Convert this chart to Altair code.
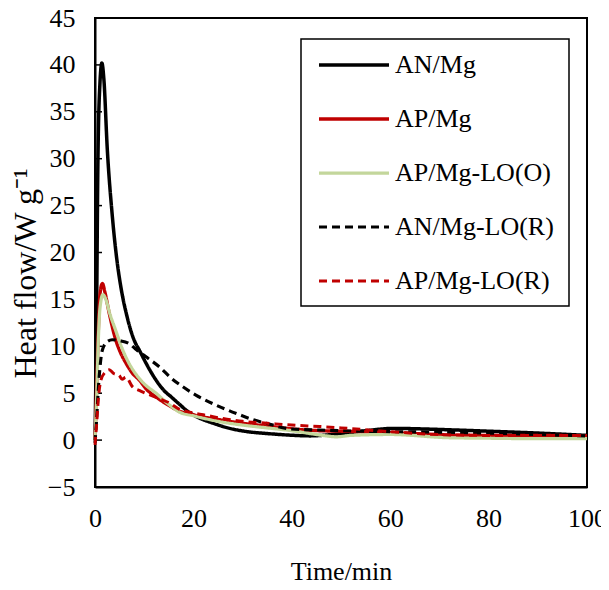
import altair as alt
import pandas as pd

series_names = ["AN/Mg", "AP/Mg", "AP/Mg-LO(O)", "AN/Mg-LO(R)", "AP/Mg-LO(R)"]
series_colors = ["#000000", "#c00000", "#c3d69b", "#000000", "#c00000"]

an_mg_t = [0, 0.3, 0.6, 1.0, 1.4, 1.8, 2.5, 3.5, 4.5, 5.2, 6.5, 8, 9, 11, 12.4, 14, 15.5, 17, 19, 21, 24, 27, 31, 35, 39.6, 43.7, 50, 55, 60.7, 66, 72, 80, 90, 100]
an_mg_v = [0, 12, 30, 38, 40.2, 38.5, 31, 24, 19, 16.5, 13.2, 10.6, 9.6, 7.6, 6.4, 5.3, 4.6, 3.9, 3.0, 2.4, 1.8, 1.3, 0.9, 0.7, 0.53, 0.45, 0.7, 1.0, 1.25, 1.2, 1.1, 0.95, 0.75, 0.5]

ap_mg_t = [0, 0.3, 0.7, 1.0, 1.5, 2.0, 2.9, 4.2, 5.2, 6.3, 7.5, 9.0, 10.5, 12.4, 15, 17.1, 20, 25, 30, 35, 40, 45.7, 50, 60, 72, 80, 90, 100]
ap_mg_v = [0, 5, 12, 15.5, 16.7, 15.8, 13.5, 10.7, 9.3, 8.2, 7.2, 6.4, 5.4, 4.6, 3.7, 3.1, 2.7, 2.2, 1.8, 1.5, 1.2, 1.0, 0.95, 0.8, 0.55, 0.5, 0.5, 0.45]

ap_lo_o_t = [0, 0.3, 0.7, 1.0, 1.6, 2.2, 3.0, 4.2, 5.5, 6.9, 8.5, 10, 12.4, 15, 17.1, 20, 25, 30, 35, 40, 43.7, 47, 49, 52, 60, 72, 80, 90, 100]
ap_lo_o_v = [0, 4, 11, 14, 15.5, 15, 13.5, 11.7, 9.8, 8.2, 6.9, 6.0, 5.0, 3.8, 3.0, 2.6, 2.0, 1.6, 1.3, 1.0, 0.7, 0.45, 0.35, 0.5, 0.6, 0.25, 0.2, 0.15, 0.15]

an_lo_r_t = [0, 0.3, 0.8, 1.5, 2.5, 3.5, 5, 6.9, 8.5, 10.3, 13.1, 15.5, 17.8, 20.5, 23.9, 26.5, 29.4, 32, 34.8, 39.6, 45.7, 50, 60, 70, 80, 90, 100]
an_lo_r_v = [-0.3, 2, 6.4, 9.6, 10.5, 10.7, 10.6, 10.3, 9.6, 8.9, 7.8, 6.6, 5.7, 4.8, 3.9, 3.3, 2.7, 2.2, 1.8, 1.2, 1.07, 1.0, 0.9, 0.85, 0.75, 0.6, 0.45]

ap_lo_r_t = [0, 0.3, 0.7, 1.2, 2.0, 2.9, 3.8, 4.9, 5.5, 6.3, 7.6, 9, 10.3, 13.1, 15, 17.1, 20, 23, 26, 30, 35, 40, 45.7, 50, 60, 72, 80, 90, 100]
ap_lo_r_v = [-0.5, 1.5, 4.5, 6.4, 7.2, 7.5, 7.1, 6.9, 6.5, 6.7, 5.7, 5.3, 5.0, 4.4, 4.0, 3.3, 2.9, 2.6, 2.3, 2.0, 1.8, 1.6, 1.45, 1.3, 0.9, 0.55, 0.5, 0.5, 0.5]

y_ticks = [-5, 0, 5, 10, 15, 20, 25, 30, 35, 40, 45]
x_ticks = [0, 20, 40, 60, 80, 100]

rows = []
for name, ts, vs in zip(series_names,
                        [an_mg_t, ap_mg_t, ap_lo_o_t, an_lo_r_t, ap_lo_r_t],
                        [an_mg_v, ap_mg_v, ap_lo_o_v, an_lo_r_v, ap_lo_r_v]):
    for i, (t, v) in enumerate(zip(ts, vs)):
        rows.append({"series": name, "t": t, "v": v, "i": i})
df = pd.DataFrame(rows)

FONT = "Liberation Serif"
FS = 26

xscale = alt.Scale(domain=[0, 100], nice=False)
yscale = alt.Scale(domain=[-5, 45], nice=False)

legend = alt.Legend(
    orient="none", legendX=206, legendY=22, title=None,
    symbolType="stroke", symbolSize=4900, symbolOffset=16,
    labelFont=FONT, labelFontSize=FS, labelColor="black", labelOffset=4,
    padding=0, rowPadding=4, clipHeight=50,
)

lines = alt.Chart(df).mark_line(interpolate="monotone").encode(
    x=alt.X("t:Q", scale=xscale,
            axis=alt.Axis(values=x_ticks, title="Time/min", grid=False, ticks=False,
                          labelFlush=False, labelPadding=18, titleY=84, titleBaseline="middle")),
    y=alt.Y("v:Q", scale=yscale,
            axis=alt.Axis(values=y_ticks, title="Heat flow/W g⁻¹", grid=False, ticks=False,
                          labelPadding=20, titleX=-70, titleY=255, titleBaseline="middle",
                          titleFontSize=32)),
    color=alt.Color("series:N", scale=alt.Scale(domain=series_names, range=series_colors), legend=legend),
    strokeDash=alt.StrokeDash("series:N", scale=alt.Scale(domain=series_names,
                              range=[[1, 0], [1, 0], [1, 0], [8, 5], [8, 5]]), legend=legend),
    strokeWidth=alt.StrokeWidth("series:N", scale=alt.Scale(domain=series_names,
                                range=[3.5, 3, 2.5, 3.5, 3.5]), legend=legend),
    order="i:Q",
)

tick_df = pd.DataFrame({"y": y_ticks})
ticks = alt.Chart(tick_df).mark_rule(color="black", strokeWidth=1.5).encode(
    y=alt.Y("y:Q", scale=yscale),
    x=alt.value(0), x2=alt.value(7),
)

box = alt.Chart(pd.DataFrame({"k": [0]})).mark_rect(
    fill="white", stroke="black", strokeWidth=1.5
).encode(
    x=alt.value(206), x2=alt.value(474), y=alt.value(21), y2=alt.value(288),
)

chart = alt.layer(box, ticks, lines).properties(
    width=492, height=469,
    autosize=alt.AutoSizeParams(type="none"),
    padding={"left": 87, "top": 10, "right": 14, "bottom": 95},
).configure_view(
    stroke="black", strokeWidth=2
).configure_axis(
    domainColor="black", domainWidth=2,
    labelFont=FONT, labelFontSize=FS, labelColor="black",
    titleFont=FONT, titleFontSize=FS, titleColor="black", titleFontWeight="normal",
)

chart.save("out.html", embed_options={"renderer": "svg", "actions": False})
